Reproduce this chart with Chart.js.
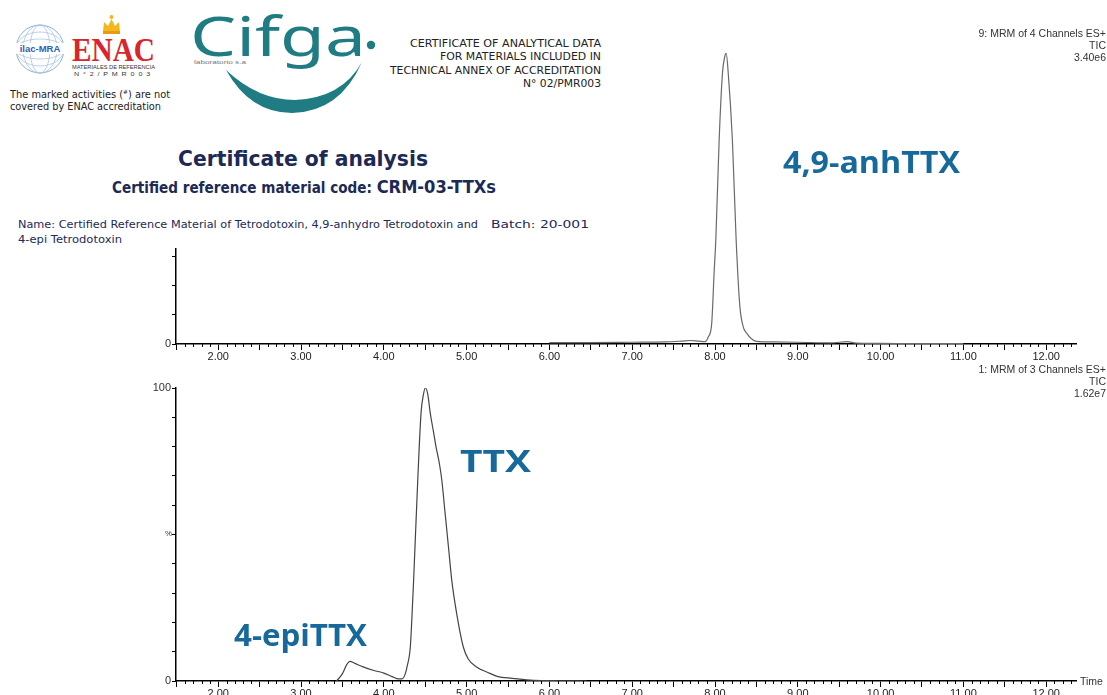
<!DOCTYPE html>
<html><head><meta charset="utf-8">
<script src="https://cdn.jsdelivr.net/npm/chart.js@4.4.1/dist/chart.umd.min.js"></script>
<style>
html,body{margin:0;padding:0;background:#fff;}
body{width:1107px;height:695px;position:relative;overflow:hidden;font-family:"Liberation Sans",Arial,sans-serif;}
.t{position:absolute;white-space:nowrap;line-height:1;transform-origin:0 50%;}
canvas{position:absolute;left:0;}
#cTop{top:0;} #cBot{top:360px;}
#header{position:absolute;left:0;top:0;width:615px;height:248px;background:#fff;}
.lbl{font-family:"Open Sans","Noto Sans",sans-serif;font-weight:700;color:#17699b;}
.info{font-family:"Liberation Sans",Arial,sans-serif;font-size:10.5px;color:#333;}
.nav{font-family:"DejaVu Sans",sans-serif;color:#1c2a55;}
</style></head><body>
<canvas id="cTop" width="1107" height="370"></canvas>
<canvas id="cBot" width="1107" height="335"></canvas>

<div id="header">
  <svg width="615" height="140" style="position:absolute;left:0;top:0">
    <!-- ilac-MRA -->
    <circle cx="40" cy="49" r="24" fill="#fff" stroke="#8fb3d9" stroke-width="1"/>
    <ellipse cx="40" cy="49" rx="24" ry="10" fill="none" stroke="#a9c4e3" stroke-width="0.8"/>
    <ellipse cx="40" cy="49" rx="24" ry="17" fill="none" stroke="#a9c4e3" stroke-width="0.8"/>
    <ellipse cx="40" cy="49" rx="10" ry="24" fill="none" stroke="#a9c4e3" stroke-width="0.8"/>
    <ellipse cx="40" cy="49" rx="17" ry="24" fill="none" stroke="#a9c4e3" stroke-width="0.8"/>
    <rect x="15" y="43" width="50" height="11" fill="#fff"/>
    <text x="40" y="52" text-anchor="middle" font-family="Liberation Sans" font-weight="700" font-size="9.5" fill="#2b63b0">ilac-MRA</text>
    <!-- crown -->
    <path d="M103 32 L104 22 L108 26 L111.5 19 L115 26 L119 22 L120 32 Z" fill="#f2b81d"/>
    <circle cx="111.5" cy="17" r="2" fill="#f2b81d"/>
    <rect x="103" y="31" width="17" height="3" fill="#e79a12"/>
    <!-- swoosh -->
    <path d="M226 70 Q250 113 292 113 Q340 112 362 62 Q342 98 295 100 Q258 100 226 70 Z" fill="#1e7c82"/>
    <circle cx="371" cy="45" r="4.2" fill="#1e7c82"/>
  </svg>
  <div class="t fit" data-w="83" style="left:72px;top:34px;font-family:'Liberation Serif',serif;font-weight:700;font-size:33px;color:#d9262c;">ENAC</div>
  <div class="t fit" data-w="83" style="left:72px;top:64px;font-size:6px;color:#333;">MATERIALES DE REFERENCIA</div>
  <div class="t fit" data-w="80" style="left:74px;top:72px;font-size:5.5px;color:#333;letter-spacing:3px;">N°2/PMR003</div>
  <div class="t fit" data-w="160" style="left:10px;top:89px;font-family:'DejaVu Sans';font-size:10px;color:#222;">The marked activities (<sup style="font-size:6px">#</sup>) are not</div>
  <div class="t fit" data-w="151" style="left:10px;top:102px;font-family:'DejaVu Sans';font-size:10px;color:#222;">covered by ENAC accreditation</div>
  <div class="t fit" data-w="176" style="left:190px;top:8px;font-family:'Noto Sans',sans-serif;font-weight:400;font-size:54px;color:#1e7c82;">Cifga</div>
  <div class="t fit" data-w="52" style="left:194px;top:59px;font-size:6px;color:#777;">laboratorio s.a</div>

  <div class="t fit" data-w="191" style="left:410px;top:38px;font-family:'DejaVu Sans';font-size:10.5px;color:#222;">CERTIFICATE OF ANALYTICAL DATA</div>
  <div class="t fit" data-w="161" style="left:440px;top:51px;font-family:'DejaVu Sans';font-size:10.5px;color:#222;">FOR MATERIALS INCLUDED IN</div>
  <div class="t fit" data-w="211" style="left:390px;top:65px;font-family:'DejaVu Sans';font-size:10.5px;color:#222;">TECHNICAL ANNEX OF ACCREDITATION</div>
  <div class="t fit" data-w="78" style="left:523px;top:78px;font-family:'DejaVu Sans';font-size:10.5px;color:#222;">N° 02/PMR003</div>

  <div class="t fit nav" data-w="250" style="left:178px;top:149px;font-size:21px;font-weight:700;">Certificate of analysis</div>
  <div class="t fit nav" data-w="384" style="left:112px;top:178px;font-size:15px;font-weight:700;">Certified reference material code: <span style="font-size:18px">CRM-03-TTXs</span></div>
  <div class="t fit nav" data-w="460" style="left:18px;top:219px;font-size:11px;">Name: Certified Reference Material of Tetrodotoxin, 4,9-anhydro Tetrodotoxin and</div>
  <div class="t fit nav" data-w="98" style="left:491px;top:219px;font-size:11px;">Batch: 20-001</div>
  <div class="t fit nav" data-w="104" style="left:18px;top:234px;font-size:11px;">4-epi Tetrodotoxin</div>
</div>

<div class="t info" style="right:1px;left:auto;top:28px;text-align:right;">9: MRM of 4 Channels ES+</div>
<div class="t info" style="right:1px;left:auto;top:40px;">TIC</div>
<div class="t info" style="right:1px;left:auto;top:52px;">3.40e6</div>
<div class="t info" style="right:1px;left:auto;top:364px;">1: MRM of 3 Channels ES+</div>
<div class="t info" style="right:1px;left:auto;top:376px;">TIC</div>
<div class="t info" style="right:1px;left:auto;top:388px;">1.62e7</div>
<div class="t info" style="left:1080px;top:676px;">Time</div>
<div class="t info" style="left:165px;top:530px;font-size:8px;">%</div>

<div class="t fit lbl" data-w="177" style="left:783px;top:147px;font-size:30px;">4,9-anhTTX</div>
<div class="t fit lbl" data-w="71" style="left:460px;top:446px;font-size:30px;">TTX</div>
<div class="t fit lbl" data-w="133" style="left:234px;top:620px;font-size:30px;">4-epiTTX</div>

<script>
// ---- data ----
const timeMin = 1.49;
const timeMax = 12.36;
const majorTickStep = 0.5;
const minorTickStep = 0.1;

// 4,9-anhTTX trace (channel 9, TIC 3.40e6), % of full scale
const anhTimes = [6.00, 6.50, 7.00, 7.40, 7.60, 7.70, 7.80, 7.88, 7.92, 7.96, 7.99, 8.01, 8.05, 8.09, 8.12, 8.135, 8.16, 8.21, 8.255, 8.30, 8.34, 8.38, 8.44, 8.50, 8.70, 9.00, 9.40, 9.60, 9.70, 10.00, 10.50, 11.00];
const anhIntensity = [0.5, 0.5, 0.6, 0.7, 1.0, 1.2, 1.0, 0.8, 2.5, 7, 25, 36, 70, 93, 99, 100, 93, 70, 36, 13, 6, 3.8, 1.8, 0.9, 0.7, 0.6, 0.4, 0.8, 0.3, 0.2, 0.1, 0.1];

// TTX / 4-epiTTX trace (channel 1, TIC 1.62e7), % of full scale
const ttxTimes = [3.43, 3.50, 3.55, 3.59, 3.65, 3.75, 3.88, 4.00, 4.10, 4.18, 4.22, 4.26, 4.28, 4.32, 4.34, 4.36, 4.41, 4.45, 4.48, 4.50, 4.53, 4.56, 4.60, 4.63, 4.67, 4.70, 4.74, 4.78, 4.82, 4.88, 4.96, 5.02, 5.12, 5.25, 5.37, 5.55, 5.77, 6.00, 6.45];
const ttxIntensity = [0, 2.5, 5.5, 6.7, 6.0, 4.8, 3.6, 2.7, 1.5, 0.7, 0.7, 2.5, 4.8, 11.6, 22, 34.5, 68.7, 91.6, 98, 100, 98, 91.6, 85, 80, 74.4, 68.7, 57.3, 46, 34.5, 23, 11.6, 7.5, 4.8, 3.0, 1.6, 0.9, 0.3, 0.1, 0];

const yMin = 0, yMax = 100, yStep = 10;
const topYLabels = [0];
const botYLabels = [0, 100];

// ---- fit text widths ----
document.querySelectorAll('.fit').forEach(el => {
  const w = el.getBoundingClientRect().width;
  const target = parseFloat(el.dataset.w);
  if (w > 0) el.style.transform = 'scaleX(' + (target / w) + ')';
});

const minorTicks = {
  id: 'minorTicks',
  afterDraw(chart) {
    const s = chart.scales.x, ctx = chart.ctx, y0 = chart.chartArea.bottom;
    ctx.save();
    ctx.strokeStyle = '#000';
    ctx.lineWidth = 1;
    const n0 = Math.ceil(s.min / minorTickStep), n1 = Math.floor(s.max / minorTickStep);
    for (let k = n0; k <= n1; k++) {
      if (k % 5 === 0) continue;
      const x = Math.round(s.getPixelForValue(k * minorTickStep)) + 0.5;
      ctx.beginPath(); ctx.moveTo(x, y0); ctx.lineTo(x, y0 + 3); ctx.stroke();
    }
    ctx.restore();
  }
};

function makeChart(id, times, vals, o) {
  return new Chart(document.getElementById(id), {
    type: 'line',
    data: { datasets: [{
      data: times.map((t, i) => ({ x: t, y: vals[i] })),
      borderColor: o.color, borderWidth: 1.2, pointRadius: 0,
      cubicInterpolationMode: 'monotone', fill: false
    }]},
    options: {
      responsive: false, animation: false, devicePixelRatio: 1,
      layout: { padding: { top: o.padTop, right: 31, left: 0, bottom: 0 } },
      plugins: { legend: { display: false }, tooltip: { enabled: false } },
      scales: {
        x: {
          type: 'linear', min: timeMin, max: timeMax,
          afterFit: s => { s.height = o.xH; s.paddingLeft = 0; s.paddingRight = 0; },
          border: { color: '#000', width: 1.5 },
          grid: { display: true, drawOnChartArea: false, drawTicks: true, tickLength: 6, color: '#000', tickWidth: 1 },
          ticks: {
            stepSize: majorTickStep, includeBounds: false, autoSkip: false, maxRotation: 0, minRotation: 0,
            padding: 0, color: '#222', font: { family: 'Liberation Sans', size: 11 },
            callback: v => Math.abs(v - Math.round(v)) < 1e-6 ? Number(v).toFixed(2) : ''
          }
        },
        y: {
          min: yMin, max: yMax,
          afterFit: s => { s.width = 176; s.paddingTop = 0; s.paddingBottom = 0; },
          border: { color: '#000', width: 1.5 },
          grid: { display: true, drawOnChartArea: false, drawTicks: true, tickLength: 4, color: '#000' },
          ticks: {
            stepSize: yStep, autoSkip: false, padding: 1, color: '#333',
            font: { family: 'Liberation Sans', size: 11 },
            callback: v => o.yLabels.includes(v) ? String(v) : ''
          }
        }
      }
    },
    plugins: [minorTicks]
  });
}

makeChart('cTop', anhTimes, anhIntensity, { color: '#6a6a6a', padTop: 53, xH: 26, yLabels: topYLabels });
makeChart('cBot', ttxTimes, ttxIntensity, { color: '#444', padTop: 28, xH: 14, yLabels: botYLabels });
</script>
</body></html>
